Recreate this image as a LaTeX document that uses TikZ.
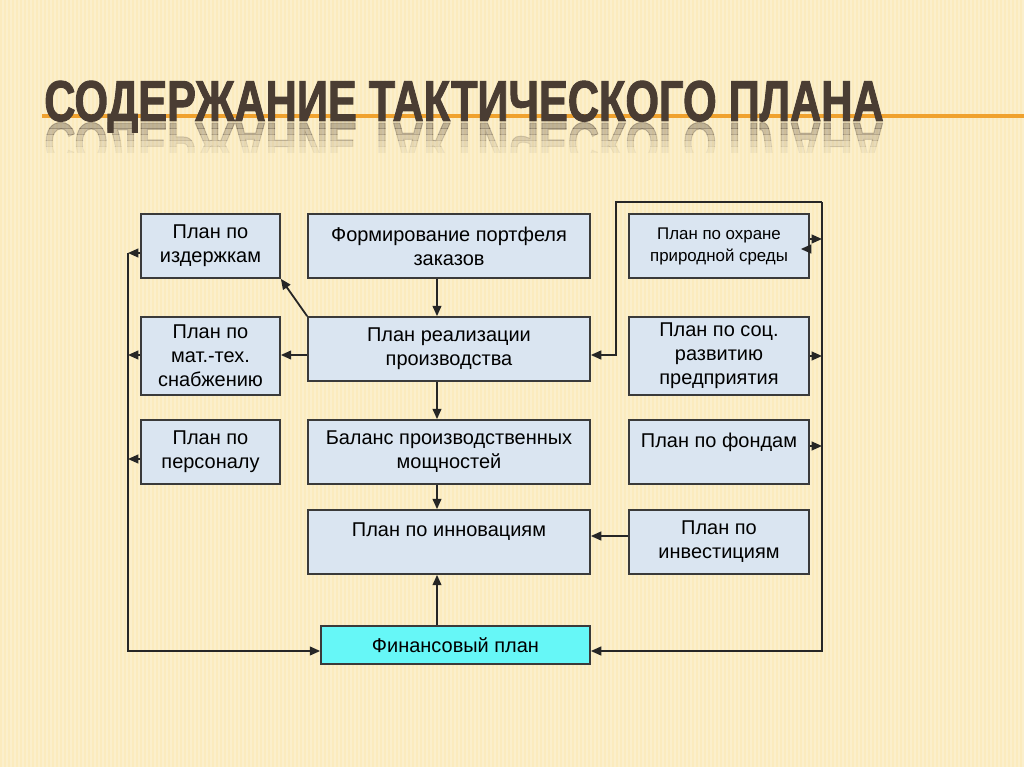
\documentclass[tikz,border=0pt]{standalone}
\usepackage{fontspec}
\setmainfont{Liberation Sans}
\newfontfamily\titlefont{Liberation Sans}[FakeStretch=0.75,FakeBold=1.6]
\usetikzlibrary{positioning,arrows.meta,calc}
\definecolor{bg}{HTML}{FBEBBE}
\definecolor{boxfill}{HTML}{DAE5F1}
\definecolor{finfill}{HTML}{66F7F7}
\definecolor{boxline}{HTML}{3A3A3A}
\definecolor{titlecol}{HTML}{4A3D33}
\definecolor{rulecol}{HTML}{F0A22E}
\tikzset{
  % --- slide ------------------------------------------------------------
  stripe/.style  ={draw=white, opacity=0.22, line width=0.35mm},
  rule/.style    ={draw=rulecol, line width=0.8mm},
  ttl/.style     ={font=\titlefont\bfseries\fontsize{41}{41}\selectfont,
                   text=titlecol, inner sep=0pt},
  % --- plan boxes -------------------------------------------------------
  box/.style     ={draw=boxline, line width=0.42mm, fill=boxfill, align=center,
                   inner sep=0pt, font=\fontsize{14.2}{17}\selectfont},
  side/.style    ={box, minimum width=34.75mm, minimum height=16mm},
  mid/.style     ={box, minimum width=70.5mm, minimum height=16mm},
  right/.style   ={box, minimum width=45mm, minimum height=16mm},
  tall/.style    ={minimum height=19.5mm},
  small/.style   ={font=\fontsize{12}{15.6}\selectfont},
  fin/.style     ={box, fill=finfill, minimum width=67.25mm, minimum height=9.5mm},
  % --- connectors -------------------------------------------------------
  wire/.style    ={line width=0.45mm, draw=black!85},
  arrow/.style   ={wire, -{Triangle[length=2.6mm,width=2.2mm]}},
}

\begin{document}
\begin{tikzpicture}[x=0.25mm, y=-0.25mm]

  % ============================= slide background =============================
  \fill[bg] (0,0) rectangle (1024,767);
  \useasboundingbox (0,0) rectangle (1024,767);
  \foreach \sx in {3,7,...,1023}
    \draw[stripe] (\sx,0) -- (\sx,767);

  % ============================= title =============================
  \draw[rule] (42,116) -- (1024,116);
  \foreach \k/\op in {0/0.34,1/0.26,2/0.18,3/0.11,4/0.05} {
    \begin{scope}
      \clip (0,{123+6*\k}) rectangle (1024,{129+6*\k});
      \node[ttl, anchor=base west, opacity=\op] (refl\k) at (44,123)
        {\scalebox{1}[-1]{СОДЕРЖАНИЕ ТАКТИЧЕСКОГО ПЛАНА}};
    \end{scope}
  }
  \node[ttl, anchor=base west] (title) at (44,121) {СОДЕРЖАНИЕ ТАКТИЧЕСКОГО ПЛАНА};

  % ============================= row 1 =============================
  \node[side]         (costs)     at (210.5,246) {План по\\издержкам};
  \node[mid]          (portfolio) at (449,246)   {Формирование портфеля\\заказов};
  \node[right, small] (ecology)   at (719,246)   {План по охране\\природной среды};

  % ============================= row 2 =============================
  \node[side, tall]   (supply)     at (210.5,356) {План по\\мат.-тех.\\снабжению};
  \node[mid]          (production) at (449,349)   {План реализации\\производства};
  \node[right, tall]  (social)     at (719,356)   {План по соц.\\развитию\\предприятия};

  % ============================= row 3 =============================
  \node[side]  (staff)    at (210.5,452) {План по\\персоналу};
  \node[mid]   (capacity) at (449,452)   {Баланс производственных\\мощностей};
  \node[right] (funds)    at (719,452)   {План по фондам\\\mbox{}};

  % ============================= row 4 + finance =============================
  \node[mid]   (innov)   at (449,542)   {План по инновациям\\\mbox{}};
  \node[right] (invest)  at (719,542)   {План по\\инвестициям};
  \node[fin]   (finance) at (455.5,645) {Финансовый план};

  % ============================= edges =============================
  \coordinate (spine) at (437,0);
  \coordinate (lbus)  at (128,0);
  \coordinate (rtop)  at (822,202);
  \coordinate (ltop)  at (616,202);
  % central chain
  \draw[arrow] (portfolio.south -| spine) -- (production.north -| spine);
  \draw[arrow] (production.south -| spine) -- (capacity.north -| spine);
  \draw[arrow] (capacity.south -| spine) -- (innov.north -| spine);
  \draw[arrow] (finance.north -| spine) -- (innov.south -| spine);
  \draw[arrow] ($(invest.west)+(0,-6)$) coordinate (k1) -- (k1 -| innov.east);
  % production -> left plans
  \draw[arrow] (production.north west) -- (costs.south east);
  \draw[arrow] ($(production.west)+(0,6)$) coordinate (e1) -- (e1 -| supply.east);
  % left plans -> left bus -> finance
  \draw[arrow] ($(costs.west)+(0,7)$) coordinate (a1) -- (a1 -| lbus);
  \draw[arrow] ($(supply.west)+(0,-1)$) coordinate (d1) -- (d1 -| lbus);
  \draw[arrow] ($(staff.west)+(0,7)$) coordinate (g1) -- (g1 -| lbus);
  \draw[arrow] (a1 -| lbus) |- ($(finance.west)+(0,6)$);
  % right plans -> right bus -> production / finance
  \draw[arrow] ($(ecology.east)+(0,-7)$) coordinate (c1) -- (c1 -| rtop);
  \draw[arrow] ($(ecology.east)+(0,3)$) coordinate (c2) -- ++(-9,0);
  \draw[arrow] ($(social.east)+(0,0)$) coordinate (f1) -- (f1 -| rtop);
  \draw[arrow] ($(funds.east)+(0,-6)$) coordinate (i1) -- (i1 -| rtop);
  \draw[arrow] (rtop) -- (ltop) |- ($(production.east)+(0,6)$);
  \draw[arrow] (rtop) |- ($(finance.east)+(0,6)$);

\end{tikzpicture}
\end{document}
